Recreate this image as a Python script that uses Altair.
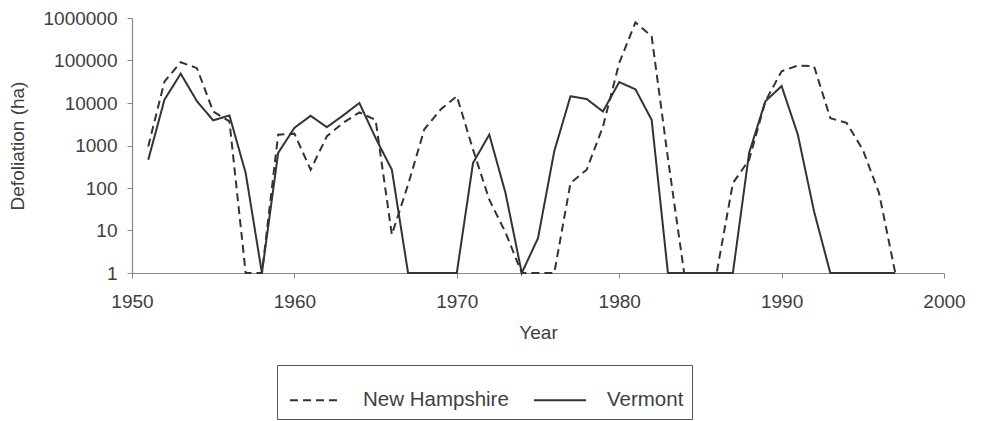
import altair as alt
import pandas as pd

years = list(range(1951, 1998))
new_hampshire = [950, 32000, 91000, 66000, 6300, 3700, 1, 1, 1800, 1900,
                 270, 1650, 3400, 6000, 4000, 8, 120, 2400, 7000, 14500,
                 800, 53, 9, 1, 1, 1, 130, 270, 2800, 87000,
                 790000, 370000, 500, 1, 1, 1, 130, 460, 11000, 56000,
                 76000, 73000, 4400, 3400, 800, 76, 1]
vermont = [460, 12000, 49000, 11000, 3900, 5100, 225, 1, 670, 2600,
           5000, 2700, 5100, 10000, 1500, 270, 1, 1, 1, 1,
           390, 1800, 76, 1, 6.6, 730, 14400, 12400, 6300, 31000,
           21000, 4000, 1, 1, 1, 1, 1, 670, 11000, 25000,
           1800, 28, 1, 1, 1, 1, 1]
series_names = ["New Hampshire", "Vermont"]
x_ticks = [1950, 1960, 1970, 1980, 1990, 2000]
y_ticks = [1, 10, 100, 1000, 10000, 100000, 1000000]

rows = []
for name, vals in zip(series_names, [new_hampshire, vermont]):
    for yr, v in zip(years, vals):
        rows.append({"Year": yr, "Defoliation": v, "State": name})
df = pd.DataFrame(rows)

FONT = "Liberation Sans"
TXT = "#404040"

chart = alt.Chart(df).mark_line(strokeWidth=2, color="#333333").encode(
    x=alt.X("Year:Q",
            scale=alt.Scale(domain=[1950, 2000], nice=False, zero=False),
            axis=alt.Axis(values=x_ticks, format="d", title="Year",
                          grid=False, tickSize=5, labelPadding=14,
                          labelFlush=False, titlePadding=12)),
    y=alt.Y("Defoliation:Q",
            scale=alt.Scale(type="log", domain=[1, 1000000], nice=False),
            axis=alt.Axis(values=y_ticks, format="d", title="Defoliation (ha)",
                          grid=False, tickSize=5, labelPadding=10,
                          labelFlush=False, titlePadding=16)),
    strokeDash=alt.StrokeDash("State:N",
        scale=alt.Scale(domain=series_names, range=[[8, 5], [1, 0]]),
        legend=alt.Legend(orient="none", legendX=145, legendY=347,
                          direction="horizontal", title=None,
                          symbolType="stroke", symbolSize=2704,
                          symbolStrokeWidth=2, symbolStrokeColor="#333333",
                          symbolOffset=4,
                          labelFont=FONT, labelFontSize=20.5, labelColor=TXT,
                          labelOffset=20, columnPadding=20,
                          padding=8, strokeColor="#555555",
                          fillColor="white")),
    detail="State:N",
).properties(
    width=812, height=255,
    autosize=alt.AutoSizeParams(type="none"),
    padding={"left": 124, "top": 10, "right": 28, "bottom": 150},
).configure_view(stroke=None).configure_axis(
    domainColor="#888888", tickColor="#888888", domainWidth=1.2,
    labelFont=FONT, labelFontSize=19, labelColor=TXT,
    titleFont=FONT, titleFontSize=19, titleColor=TXT, titleFontWeight="normal",
)

chart.save("out.html", embed_options={"renderer": "svg", "actions": False})
